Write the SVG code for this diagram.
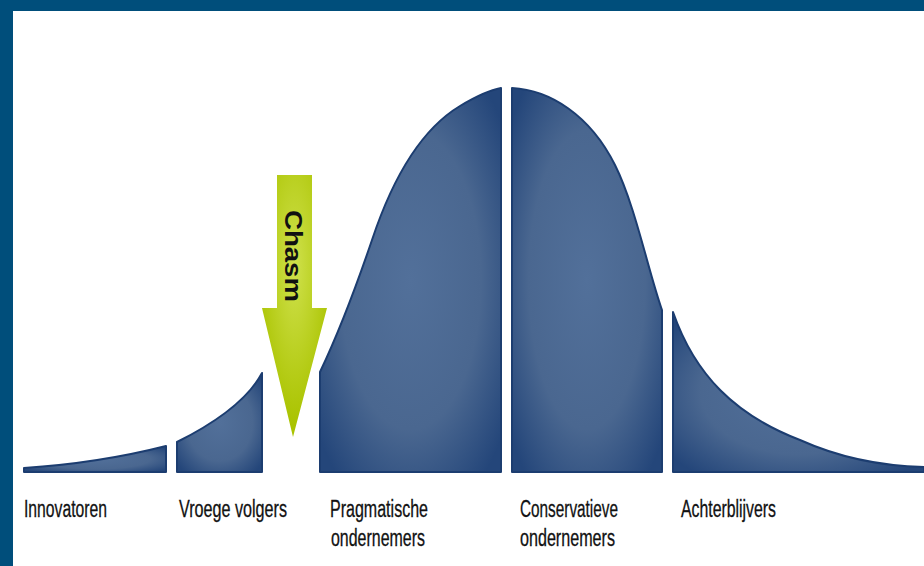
<svg xmlns="http://www.w3.org/2000/svg" width="924" height="566" viewBox="0 0 924 566">
  <defs>
    <radialGradient id="blueFill" cx="0.5" cy="0.5" r="0.65">
      <stop offset="0" stop-color="#52709a"/>
      <stop offset="0.6" stop-color="#4a6790"/>
      <stop offset="1" stop-color="#24467a"/>
    </radialGradient>
    <radialGradient id="greenFill" cx="0.5" cy="0.35" r="0.6">
      <stop offset="0" stop-color="#cfe14c"/>
      <stop offset="1" stop-color="#aac300"/>
    </radialGradient>
    <style>
      .seg { fill: url(#blueFill); stroke: #1c3d70; stroke-width: 2; stroke-linejoin: round; }
      .lbl { font-family: "Liberation Sans", Arial, sans-serif; font-size: 23px; fill: #111; stroke: #111; stroke-width: 0.3; }
      .chasm { font-family: "Liberation Sans", Arial, sans-serif; font-size: 24px; font-weight: bold; fill: #111; }
    </style>
  </defs>
  <rect x="0" y="0" width="924" height="566" fill="#ffffff"/>
  <rect x="0" y="0" width="924" height="11" fill="#004e7b"/>
  <rect x="0" y="0" width="13" height="566" fill="#004e7b"/>

  <g id="innovatoren">
    <path class="seg" d="M24,472 L24,468 C70,465 115,459 166,446 L166,472 Z"/>
    <text class="lbl" x="24" y="517" textLength="83" lengthAdjust="spacingAndGlyphs">Innovatoren</text>
  </g>
  <g id="vroege-volgers">
    <path class="seg" d="M177,472 L177,442 C205,428 245,405 262,373 L262,472 Z"/>
    <text class="lbl" x="179" y="517" textLength="108" lengthAdjust="spacingAndGlyphs">Vroege volgers</text>
  </g>
  <g id="pragmatische">
    <path class="seg" d="M320,472 L320,372 C340,330 355,290 372,240 C392,180 420,130 460,106 C475,97 490,90 501,88 L501,472 Z"/>
    <text class="lbl" x="330" y="517" textLength="98" lengthAdjust="spacingAndGlyphs">Pragmatische</text>
    <text class="lbl" x="331" y="546" textLength="94" lengthAdjust="spacingAndGlyphs">ondernemers</text>
  </g>
  <g id="conservatieve">
    <path class="seg" d="M512,472 L512,88 C550,90 590,115 615,165 C635,205 648,270 662,310 L662,472 Z"/>
    <text class="lbl" x="520" y="517" textLength="98" lengthAdjust="spacingAndGlyphs">Conservatieve</text>
    <text class="lbl" x="520" y="546" textLength="95" lengthAdjust="spacingAndGlyphs">ondernemers</text>
  </g>
  <g id="achterblijvers">
    <path class="seg" d="M673,472 L673,312 C695,375 735,415 800,440 C840,458 880,466 924,467 L924,472 Z"/>
    <text class="lbl" x="681" y="517" textLength="95" lengthAdjust="spacingAndGlyphs">Achterblijvers</text>
  </g>
  <g id="chasm">
    <polygon points="277,175 312,175 312,308 327,308 293,437 262,308 277,308" fill="url(#greenFill)"/>
    <text class="chasm" transform="translate(293,256) rotate(90)" x="0" y="8" text-anchor="middle" textLength="92" lengthAdjust="spacingAndGlyphs">Chasm</text>
  </g>
  <g id="connectors"/>
</svg>
